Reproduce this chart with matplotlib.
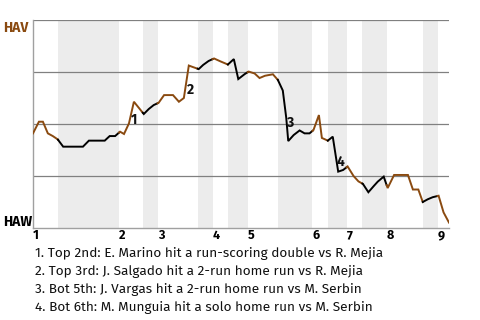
import matplotlib
matplotlib.use("Agg")
import matplotlib.pyplot as plt
import numpy as np

# ---- data ----
play = [0.0, 1.2, 2.0, 3.0, 4.0, 5.0, 6.1, 7.1, 8.1, 9.1, 10.1, 11.3, 12.3, 13.3, 14.5,
        15.5, 16.6, 17.6, 18.4, 19.4, 20.4, 22.4, 23.4, 24.4, 25.4, 26.5, 28.3, 29.5,
        30.5, 31.5, 32.3, 33.5, 34.4, 35.5, 36.6, 38.0, 39.4, 40.6, 41.5, 42.8, 43.6,
        44.8, 45.8, 46.9, 48.5, 49.5, 50.5, 51.2, 51.6, 52.7, 53.9, 54.9, 55.9, 56.7,
        57.8, 58.4, 59.6, 60.6, 61.7, 62.7, 63.6, 64.8, 65.8, 66.7, 67.8, 68.9, 69.7,
        70.9, 71.7, 73.0, 75.8, 76.8, 77.9, 78.8, 79.8, 80.8, 82.0, 83.0, 84.1]
hav_wp = [0.455, 0.511, 0.511, 0.455, 0.442, 0.426, 0.391, 0.391, 0.391, 0.391, 0.391,
          0.420, 0.420, 0.420, 0.420, 0.442, 0.442, 0.463, 0.452, 0.503, 0.607, 0.548,
          0.572, 0.591, 0.602, 0.639, 0.639, 0.607, 0.625, 0.781, 0.774, 0.764, 0.784,
          0.803, 0.815, 0.800, 0.786, 0.812, 0.716, 0.740, 0.752, 0.743, 0.721, 0.732,
          0.739, 0.712, 0.661, 0.529, 0.418, 0.447, 0.469, 0.455, 0.455, 0.471, 0.543,
          0.433, 0.420, 0.439, 0.271, 0.279, 0.296, 0.250, 0.224, 0.212, 0.172, 0.202,
          0.223, 0.247, 0.192, 0.255, 0.255, 0.185, 0.185, 0.125, 0.138, 0.148, 0.155,
          0.075, 0.026]
inning_starts = [0, 17.4, 25.2, 36.3, 43.4, 56.5, 63.4, 71.5, 81.8]
bottom_starts = [5.05, 22.2, 33.3, 39.4, 49.5, 59.6, 66.6, 78.8]
game_end = 84.1
inning_labels = ["1", "2", "3", "4", "5", "6", "7", "8", "9"]
team_top = "HAV"
team_bottom = "HAW"
event_nums = ["1", "2", "3", "4"]
event_x = [20.4, 31.9, 52.1, 62.2]
event_y = [0.519, 0.663, 0.505, 0.317]
event_notes = [
    "1. Top 2nd: E. Marino hit a run-scoring double vs R. Mejia",
    "2. Top 3rd: J. Salgado hit a 2-run home run vs R. Mejia",
    "3. Bot 5th: J. Vargas hit a 2-run home run vs M. Serbin",
    "4. Bot 6th: M. Munguia hit a solo home run vs M. Serbin",
]

BROWN = "#8a4a10"
FONT = ["Fira Sans", "DejaVu Sans"]
plt.rcParams["font.family"] = FONT

fig = plt.figure(figsize=(4.8, 3.2), dpi=100)
ax = fig.add_axes([33 / 480, 1 - 228 / 320, 416 / 480, 208 / 320])
ax.set_xlim(0, game_end)
ax.set_ylim(0, 1)

# bottom-half shading
ends = inning_starts[1:] + [game_end]
for b, e in zip(bottom_starts, ends):
    ax.axvspan(b, e, color="#ececec", lw=0, zorder=0)

# gridlines
for g in [0.25, 0.5, 0.75, 1.0]:
    ax.axhline(g, color="#808080", lw=0.9, zorder=1)

# half-inning segments
bounds = sorted(inning_starts + bottom_starts + [game_end])
xs = np.array(play)
ys = np.array(hav_wp)
for i in range(len(bounds) - 1):
    a, b = bounds[i], bounds[i + 1]
    inner = (xs > a) & (xs < b)
    sx = np.concatenate([[a], xs[inner], [b]])
    sy = np.concatenate([[np.interp(a, xs, ys)], ys[inner], [np.interp(b, xs, ys)]])
    color = BROWN if a in inning_starts else "black"
    ax.plot(sx, sy, color=color, lw=1.4, zorder=3, solid_joinstyle="miter")

for t, x, y in zip(event_nums, event_x, event_y):
    ax.text(x, y, t, ha="center", va="center", fontsize=10, fontweight=700,
            color="#111111", zorder=4)

for s in ["top", "right"]:
    ax.spines[s].set_visible(False)
ax.spines["left"].set_color("#a0a0a0")
ax.spines["bottom"].set_color("#a0a0a0")
ax.spines["left"].set_linewidth(1.0)
ax.spines["bottom"].set_linewidth(1.0)

ax.set_yticks([])
ax.set_xticks(inning_starts)
ax.set_xticklabels(inning_labels, fontsize=9, fontweight=700)
for lbl in ax.get_xticklabels():
    lbl.set_horizontalalignment("left")
ax.tick_params(axis="x", length=0, pad=1)

fig.text(3 / 480, 1 - 27.5 / 320, team_top, color=BROWN, fontsize=10,
         fontweight=700, va="center", ha="left")
fig.text(3 / 480, 1 - 221.5 / 320, team_bottom, color="black", fontsize=10,
         fontweight=700, va="center", ha="left")

for i, note in enumerate(event_notes):
    fig.text(35 / 480, 1 - (254 + 17.7 * i) / 320, note, fontsize=9.8,
             va="center", ha="left", color="#111111")

fig.savefig("out.png", dpi=100)
